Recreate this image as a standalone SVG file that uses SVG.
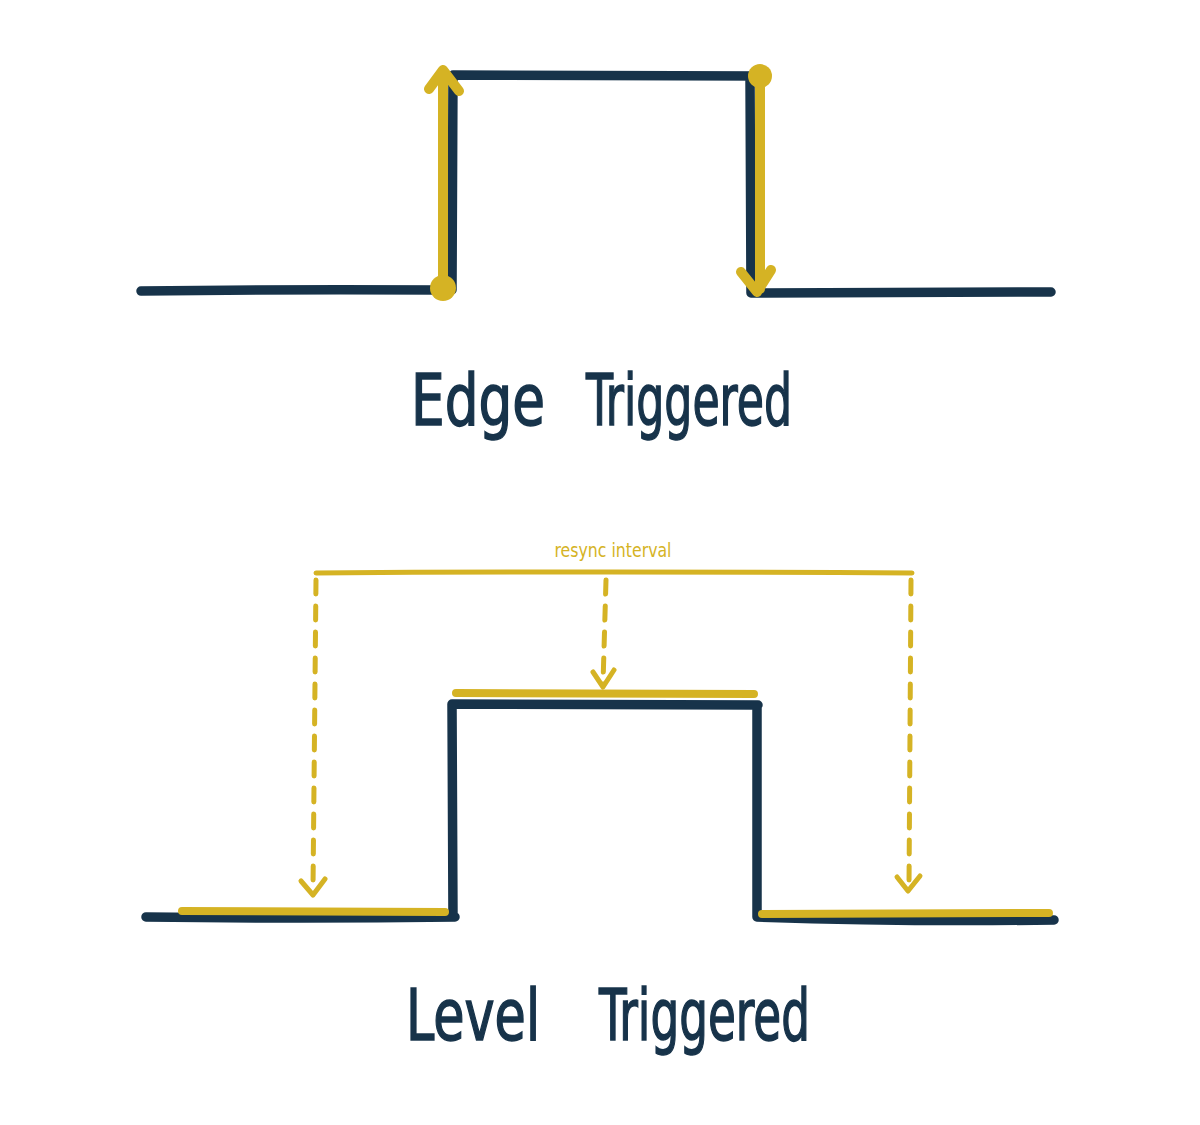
<svg xmlns="http://www.w3.org/2000/svg" width="1200" height="1125" viewBox="0 0 1200 1125">
<style>
.n{fill:none;stroke:#17334a;stroke-width:9.5;stroke-linecap:round;stroke-linejoin:round}
.y{fill:none;stroke:#d5b324;stroke-width:10;stroke-linecap:round;stroke-linejoin:round}
.yb{fill:none;stroke:#d5b324;stroke-width:8;stroke-linecap:round}
.yt{fill:none;stroke:#d5b324;stroke-width:5;stroke-linecap:round;stroke-linejoin:round}
.yd{fill:none;stroke:#d5b324;stroke-width:5;stroke-linecap:round;stroke-dasharray:14 12}
.dot{fill:#d5b324}
.title{font-family:"DejaVu Sans Condensed","DejaVu Sans",sans-serif;fill:#17334a;stroke:#17334a;stroke-width:1.5;font-size:72px}
.small{font-family:"DejaVu Sans Condensed","DejaVu Sans",sans-serif;fill:#d5b324;font-size:19px;text-anchor:middle}
</style>
<rect width="1200" height="1125" fill="#ffffff"/>
<g id="edge-signal">
<path class="n" d="M141 291 Q290 289 440 290 M452 290 L453 75 L760 76 M750 76 L751 293 L1051 292"/>
</g>
<g id="connectors">
<g id="edge-rise">
<path class="y" d="M443 287 L443 72 M429 89 L443 70 L459 91"/>
<circle class="dot" cx="443" cy="288" r="13"/>
</g>
<g id="edge-fall">
<path class="y" d="M760 78 L760 289 M741 272 L757 292 L771 270"/>
<circle class="dot" cx="760" cy="76" r="12"/>
</g>
<g id="resync">
<path class="yt" d="M316 573 Q610 571 912 573"/>
<path class="yd" d="M316 580 L313 888"/>
<path class="yt" d="M301 881 L313 895 L325 879"/>
<path class="yd" d="M606 580 L603 684"/>
<path class="yt" d="M593 672 L603 687 L614 670"/>
<path class="yd" d="M911 580 L909 886"/>
<path class="yt" d="M897 877 L908 891 L920 876"/>
</g>
</g>
<g id="level-signal">
<path class="n" d="M146 917 Q300 919 455 917 M453 917 L452 704 L758 705 M757 705 L757 917 Q900 922 1054 920"/>
<path class="yb" d="M456 693 L754 694 M182 911 L445 912 M762 914 L1049 913"/>
</g>
<g id="labels">
<text class="title" x="411" y="425" textLength="134" lengthAdjust="spacingAndGlyphs">Edge</text>
<text class="title" x="586" y="425" textLength="206" lengthAdjust="spacingAndGlyphs">Triggered</text>
<text class="small" x="613" y="557" textLength="117" lengthAdjust="spacingAndGlyphs">resync  interval</text>
<text class="title" x="406" y="1040" textLength="134" lengthAdjust="spacingAndGlyphs">Level</text>
<text class="title" x="599" y="1040" textLength="211" lengthAdjust="spacingAndGlyphs">Triggered</text>
</g>
</svg>
